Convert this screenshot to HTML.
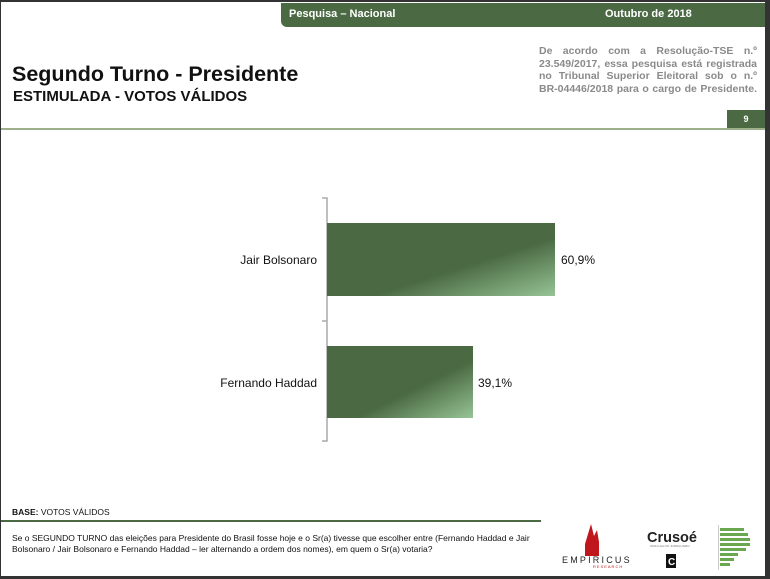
<!DOCTYPE html>
<html><head><meta charset="utf-8"><style>
body{margin:0;width:770px;height:579px;overflow:hidden;background:#333;font-family:"Liberation Sans",sans-serif;position:relative}
.page{position:absolute;left:1px;top:2px;width:764px;height:574px;background:#fff;overflow:hidden}
.a{position:absolute}
.j{text-align:justify;text-align-last:justify;white-space:nowrap;height:12.5px}
</style></head><body>
<div class="page">
<div class="a" style="left:280px;top:1px;width:484px;height:24px;background:#4b6a43;border-bottom-left-radius:6px"></div>
<div class="a" style="left:288px;top:6px;color:#fff;font-size:11px;font-weight:bold">Pesquisa – Nacional</div>
<div class="a" style="left:604px;top:6px;color:#fff;font-size:11px;font-weight:bold">Outubro de 2018</div>
<div class="a" style="left:11px;top:60px;font-size:21.5px;font-weight:bold;color:#111">Segundo Turno - Presidente</div>
<div class="a" style="left:12px;top:86px;font-size:15px;font-weight:bold;color:#111">ESTIMULADA - VOTOS VÁLIDOS</div>
<div class="a" style="left:538px;top:43px;width:218px;font-size:10.5px;font-weight:bold;color:#8a8a8a;line-height:12.5px">
<div class="j">De acordo com a Resolução-TSE n.º</div>
<div class="j">23.549/2017, essa pesquisa está registrada</div>
<div class="j">no Tribunal Superior Eleitoral sob o n.º</div>
<div class="j">BR-04446/2018 para o cargo de Presidente.</div>
</div>
<div class="a" style="left:726px;top:108px;width:38px;height:18px;background:#4b6a43;color:#fff;font-size:9px;font-weight:bold;text-align:center;line-height:18px">9</div>
<div class="a" style="left:0;top:126px;width:764px;height:2px;background:#9bb08b"></div>
<svg class="a" style="left:0;top:0" width="764" height="574">
<defs><linearGradient id="g" x1="0" y1="0" x2="1" y2="1"><stop offset="0.6" stop-color="#4b6a43"/><stop offset="1" stop-color="#96c496"/></linearGradient></defs>
<path d="M321 196H326V439H321M321 319H326" stroke="#aaa" stroke-width="1.5" fill="none"/>
<rect x="326" y="221" width="228" height="73" fill="url(#g)"/>
<rect x="326" y="344" width="146" height="72" fill="url(#g)"/>
<text x="316" y="262" font-size="12" text-anchor="end" fill="#111">Jair Bolsonaro</text>
<text x="316" y="385" font-size="12" text-anchor="end" fill="#111">Fernando Haddad</text>
<text x="560" y="262" font-size="12" fill="#111">60,9%</text>
<text x="477" y="385" font-size="12" fill="#111">39,1%</text>
</svg>
<div class="a" style="left:11px;top:505px;font-size:8.5px;color:#111"><b>BASE:</b> VOTOS VÁLIDOS</div>
<div class="a" style="left:0;top:518px;width:540px;height:1.5px;background:#4b6a43"></div>
<div class="a" style="left:11px;top:531px;width:530px;font-size:8.5px;color:#111;line-height:11px">Se o SEGUNDO TURNO das eleições para Presidente do Brasil fosse hoje e o Sr(a) tivesse que escolher entre (Fernando Haddad e Jair Bolsonaro / Jair Bolsonaro e Fernando Haddad – ler alternando a ordem dos nomes), em quem o Sr(a) votaria?</div>
<svg class="a" style="left:540px;top:510px" width="224" height="64">
<path d="M50 12 L53 24 L56 18 L58 30 L58 44 L44 44 L44 32 L47 22Z" fill="#c0171c"/>
<text x="21" y="51" font-size="9" letter-spacing="2.2" fill="#222">EMPIRICUS</text>
<text x="52" y="56" font-size="4" fill="#c0171c" letter-spacing="1">RESEARCH</text>
<text x="106" y="30" font-size="15" font-weight="bold" fill="#222" textLength="50" lengthAdjust="spacingAndGlyphs">Crusoé</text>
<text x="109" y="35" font-size="3" fill="#777">UMA ILHA NO JORNALISMO</text>
<rect x="125" y="42" width="10" height="14" fill="#111"/>
<text x="127" y="53" font-size="10" font-weight="bold" fill="#fff">C</text>
<rect x="177" y="13" width="1" height="45" fill="#ccc"/>
<g fill="#6aa84f"><rect x="179" y="16" width="24" height="3"/><rect x="179" y="21" width="28" height="3"/><rect x="179" y="26" width="30" height="3"/><rect x="179" y="31" width="30" height="3"/><rect x="179" y="36" width="26" height="3"/><rect x="179" y="41" width="18" height="3"/><rect x="179" y="46" width="14" height="3"/><rect x="179" y="51" width="10" height="3"/></g>
</svg>
</div>
</body></html>
